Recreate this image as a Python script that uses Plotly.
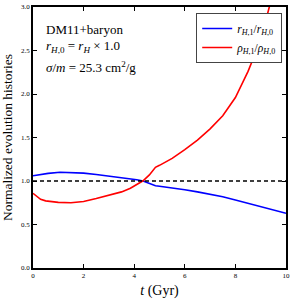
import plotly.graph_objects as go

t_blue = [0, 0.3, 0.6, 1.07, 1.5, 2.0, 2.5, 3.17, 3.5, 3.85, 4.1, 4.35, 4.6, 4.84, 5.0, 5.5, 6.0, 6.5, 7.0, 7.5, 8.0, 8.5, 9.0, 9.5, 10.0]
r_ratio = [1.06, 1.075, 1.088, 1.10, 1.098, 1.09, 1.075, 1.05, 1.04, 1.03, 1.015, 1.0, 0.975, 0.945, 0.94, 0.922, 0.90, 0.875, 0.848, 0.818, 0.782, 0.743, 0.70, 0.665, 0.629]

t_red = [0, 0.15, 0.3, 0.5, 0.7, 1.0, 1.5, 2.0, 2.5, 3.0, 3.5, 3.85, 4.1, 4.35, 4.6, 4.84, 5.0, 5.5, 6.0, 6.5, 7.0, 7.5, 8.0, 8.5, 9.0, 9.34, 9.7, 10.0]
rho_ratio = [0.858, 0.82, 0.79, 0.772, 0.762, 0.754, 0.75, 0.765, 0.798, 0.835, 0.875, 0.916, 0.955, 1.003, 1.07, 1.157, 1.18, 1.26, 1.36, 1.47, 1.60, 1.75, 1.96, 2.26, 2.62, 3.0, 3.5, 4.0]

ref_t = [0, 10]
ref_y = [1.0, 1.0]

x_ticks = [0, 2, 4, 6, 8, 10]
y_ticks = [0.0, 0.5, 1.0, 1.5, 2.0, 2.5, 3.0]
y_ticklabels = ["0.0", "0.5", "1.0", "1.5", "2.0", "2.5", "3.0"]

font_family = "Liberation Serif"

fig = go.Figure()
fig.add_trace(go.Scatter(x=t_blue, y=r_ratio, mode="lines", line=dict(color="#0000ff", width=1.6),
                         name="<i>r</i><sub><i>H</i>,1</sub>/<i>r</i><sub><i>H</i>,0</sub>"))
fig.add_trace(go.Scatter(x=t_red, y=rho_ratio, mode="lines", line=dict(color="#ff0000", width=1.6),
                         name="<i>ρ</i><sub><i>H</i>,1</sub>/<i>ρ</i><sub><i>H</i>,0</sub>"))
fig.add_trace(go.Scatter(x=ref_t, y=ref_y, mode="lines", line=dict(color="black", width=1.3, dash="4px,3px"), showlegend=False))

fig.update_layout(
    width=294, height=301,
    margin=dict(l=33, r=8, t=7, b=33, autoexpand=False),
    paper_bgcolor="white", plot_bgcolor="white",
    font=dict(family=font_family, color="black"),
    showlegend=True,
    legend=dict(x=0.985, y=0.977, xanchor="right", yanchor="top", bgcolor="white",
                bordercolor="#444", borderwidth=1, font=dict(size=11.5, family=font_family),
                itemwidth=30, tracegroupgap=0),
    xaxis=dict(range=[0, 10], tickvals=x_ticks, ticks="inside", ticklen=4, tickwidth=1, tickcolor="black",
               showline=True, linecolor="black", linewidth=1.5, mirror="ticks", showgrid=False, zeroline=False,
               tickfont=dict(size=7, family=font_family), automargin=False,
               title=dict(text="<i>t</i> (Gyr)", font=dict(size=14, family=font_family), standoff=6)),
    yaxis=dict(range=[0, 3], tickvals=y_ticks, ticktext=y_ticklabels, ticks="inside", ticklen=4, tickwidth=1, tickcolor="black",
               showline=True, linecolor="black", linewidth=1.5, mirror="ticks", showgrid=False, zeroline=False,
               tickfont=dict(size=7, family=font_family), automargin=False,
               title=dict(text="Normalized evolution histories", font=dict(size=13.5, family=font_family), standoff=6)),
    annotations=[
        dict(x=0.045, y=0.912, xref="paper", yref="paper", xanchor="left", yanchor="middle", showarrow=False,
             text="DM11+baryon", font=dict(size=13, family=font_family)),
        dict(x=0.045, y=0.847, xref="paper", yref="paper", xanchor="left", yanchor="middle", showarrow=False,
             text="<i>r</i><sub><i>H</i>,0</sub> = <i>r</i><sub><i>H</i></sub> × 1.0", font=dict(size=13, family=font_family)),
        dict(x=0.045, y=0.77, xref="paper", yref="paper", xanchor="left", yanchor="middle", showarrow=False,
             text="<i>σ</i>/<i>m</i> = 25.3 cm<sup>2</sup>/g", font=dict(size=13, family=font_family)),
    ],
)

fig.write_html("out.html", config={"displayModeBar": False}, post_script="document.body.style.margin='0';")
